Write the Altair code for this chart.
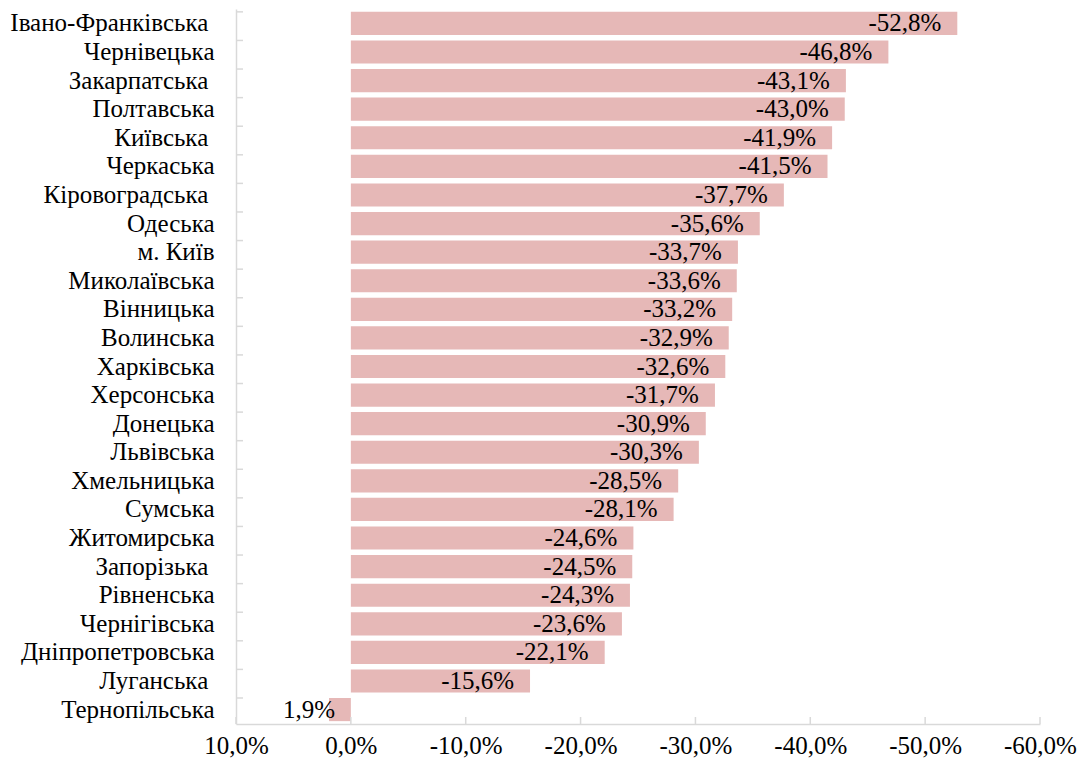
import altair as alt
import pandas as pd

SP = "\u00a0\u200b"  # trailing space kept as in the source labels
regions = ["Івано-Франківська" + SP, "Чернівецька", "Закарпатська" + SP, "Полтавська",
           "Київська" + SP, "Черкаська", "Кіровоградська" + SP, "Одеська", "м. Київ",
           "Миколаївська", "Вінницька", "Волинська", "Харківська", "Херсонська",
           "Донецька", "Львівська", "Хмельницька", "Сумська", "Житомирська",
           "Запорізька" + SP, "Рівненська", "Чернігівська", "Дніпропетровська",
           "Луганська" + SP, "Тернопільська"]
values = [-52.8, -46.8, -43.1, -43.0, -41.9, -41.5, -37.7, -35.6, -33.7, -33.6,
          -33.2, -32.9, -32.6, -31.7, -30.9, -30.3, -28.5, -28.1, -24.6, -24.5,
          -24.3, -23.6, -22.1, -15.6, 1.9]
tick_values = [10, 0, -10, -20, -30, -40, -50, -60]

W, H = 804, 715
FONT = "Liberation Serif"
FS = 25
BAR = "#E6B8B7"
AXC = "#d9d9d9"

df = pd.DataFrame({"region": regions, "value": values})
ticks_df = pd.DataFrame({"t": tick_values})

label_expr = "(datum.value < 0 ? '-' : '') + replace(format(abs(datum.value), '.1f'), '.', ',') + '%'"

xscale = alt.Scale(domain=[-60, 10], reverse=True, nice=False, zero=False)
yscale = alt.Scale(domain=regions, paddingInner=0.19, paddingOuter=0.1)

base = alt.Chart(df)

bars = base.mark_bar(color=BAR).encode(
    x=alt.X("value:Q", scale=xscale,
            axis=alt.Axis(values=tick_values, labelExpr=label_expr, title=None,
                          grid=False, ticks=False, domainColor=AXC, domainWidth=1.5,
                          labelFont=FONT, labelFontSize=FS, labelColor="black",
                          labelPadding=9, labelFlush=False)),
    x2=alt.datum(0),
    y=alt.Y("region:N", sort=regions, scale=yscale,
            axis=alt.Axis(title=None, ticks=False, grid=False, domainColor=AXC,
                          domainWidth=1.5, labelFont=FONT, labelFontSize=FS,
                          labelColor="black", labelPadding=22, labelLimit=400)),
)

text_base = base.transform_calculate(label=label_expr)

neg_text = text_base.transform_filter("datum.value < 0").mark_text(
    align="right", baseline="middle", dx=-16, font=FONT, fontSize=FS, color="black"
).encode(
    x=alt.X("value:Q", scale=xscale),
    y=alt.Y("region:N", sort=regions, scale=yscale),
    text="label:N",
)

pos_text = text_base.transform_filter("datum.value >= 0").mark_text(
    align="right", baseline="middle", dx=6, font=FONT, fontSize=FS, color="black"
).encode(
    x=alt.X("value:Q", scale=xscale),
    y=alt.Y("region:N", sort=regions, scale=yscale),
    text="label:N",
)

ytick_rules = base.mark_rule(color=AXC, strokeWidth=1.5).encode(
    y=alt.Y("region:N", sort=regions, scale=yscale, bandPosition=0),
    x=alt.value(0),
    x2=alt.value(7),
)

xtick_rules = alt.Chart(ticks_df).mark_rule(color=AXC, strokeWidth=1.5).encode(
    x=alt.X("t:Q", scale=xscale),
    y=alt.value(H - 7),
    y2=alt.value(H),
)

chart = alt.layer(bars, ytick_rules, xtick_rules, neg_text, pos_text).properties(
    width=W, height=H,
    autosize=alt.AutoSizeParams(type="none"),
    padding={"left": 236, "top": 9, "right": 39, "bottom": 44},
    background="white",
).configure_view(stroke=None)

chart.save("out.html", embed_options={"renderer": "svg", "actions": False})
